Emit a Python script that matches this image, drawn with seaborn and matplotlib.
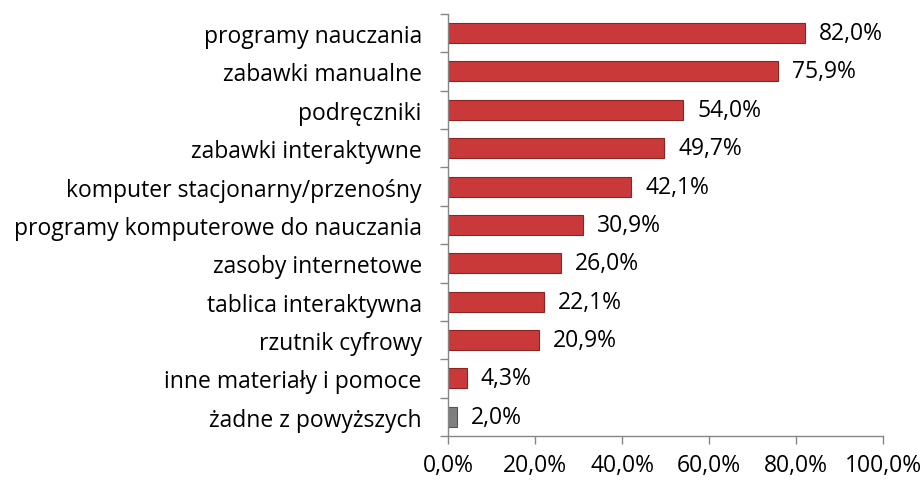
import numpy as np
import pandas as pd
import matplotlib
matplotlib.use("Agg")
import matplotlib.pyplot as plt
import seaborn as sns

# data
categories = ["programy nauczania", "zabawki manualne", "podręczniki",
              "zabawki interaktywne", "komputer stacjonarny/przenośny",
              "programy komputerowe do nauczania", "zasoby internetowe",
              "tablica interaktywna", "rzutnik cyfrowy",
              "inne materiały i pomoce", "żadne z powyższych"]
values = [82.0, 75.9, 54.0, 49.7, 42.1, 30.9, 26.0, 22.1, 20.9, 4.3, 2.0]
bar_colors = ["#C9393A"] * 10 + ["#7F7F7F"]
edge_colors = ["#8C2522"] * 10 + ["#555555"]

df = pd.DataFrame({"kategoria": categories, "wartosc": values})

sns.set_style("white")
plt.rcParams["font.family"] = ["Open Sans", "DejaVu Sans"]
fs = 16.5

fig = plt.figure(figsize=(9.24, 4.81), dpi=100)
ax = fig.add_axes([0.485, 0.0915, 0.471, 0.8775])

sns.barplot(data=df, x="wartosc", y="kategoria", hue="kategoria",
            palette=bar_colors, legend=False, width=0.52, ax=ax,
            orient="h", saturation=1)

for patch, ec in zip(ax.patches, edge_colors):
    patch.set_edgecolor(ec)
    patch.set_linewidth(0.8)

# value labels
for i, v in enumerate(values):
    ax.annotate(f"{v:.1f}%".replace(".", ","), xy=(v, i),
                xytext=(10, 0), textcoords="offset points",
                va="center", ha="left", fontsize=fs, color="black")

ax.set_xlim(0, 100)
ax.set_ylim(len(categories) - 0.5, -0.5)
xt = [0, 20, 40, 60, 80, 100]
ax.set_xticks(xt)
ax.set_xticklabels([f"{t:.1f}%".replace(".", ",") for t in xt], fontsize=fs,
                   color="black")
ax.set_yticks(range(len(categories)))
ax.set_yticklabels(categories, fontsize=fs, color="black")
ax.set_yticks(np.arange(-0.5, len(categories), 1), minor=True)
ax.tick_params(axis="y", which="major", left=False, length=0, pad=19)
ax.tick_params(axis="y", which="minor", left=True, length=6,
               color="#868686", width=1)
ax.tick_params(axis="x", which="major", bottom=True, length=6,
               color="#868686", width=1, pad=6)
ax.set_xlabel("")
ax.set_ylabel("")

for side in ["top", "right"]:
    ax.spines[side].set_visible(False)
for side in ["left", "bottom"]:
    ax.spines[side].set_color("#868686")
    ax.spines[side].set_linewidth(1)

fig.savefig("out.png", dpi=100)
